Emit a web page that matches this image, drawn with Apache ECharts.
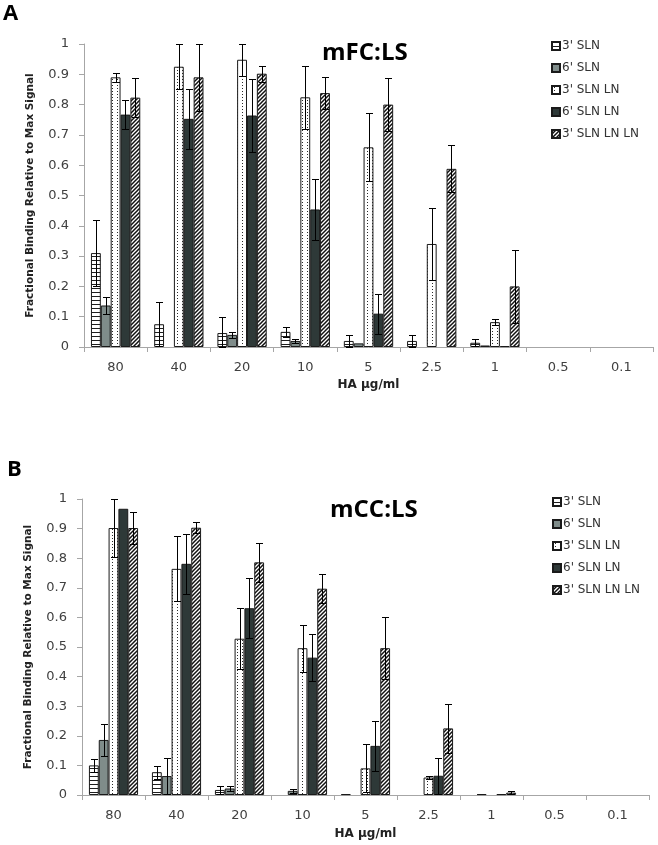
<!DOCTYPE html>
<html><head><meta charset="utf-8">
<script src="https://cdn.jsdelivr.net/npm/echarts@6/dist/echarts.min.js"></script>
<style>html,body{margin:0;padding:0;background:#fff}#c{width:658px;height:845px}</style>
</head><body><div id="c"></div>
<script>
// ---------- data ----------
const categories = ['80', '40', '20', '10', '5', '2.5', '1', '0.5', '0.1'];
const seriesNames = ["3' SLN", "6' SLN", "3' SLN LN", "6' SLN LN", "3' SLN LN LN"];

// Panel A: mFC:LS
const a_3SLN        = [0.31, 0.075, 0.046, 0.05, 0.02, 0.02, 0.014, 0, 0];
const a_3SLN_err    = [0.11, 0.073, 0.053, 0.016, 0.02, 0.02, 0.012, 0, 0];
const a_6SLN        = [0.137, 0, 0.04, 0.02, 0.012, 0, 0.005, 0, 0];
const a_6SLN_err    = [0.028, 0, 0.01, 0.008, 0, 0, 0, 0, 0];
const a_3SLNLN      = [0.89, 0.925, 0.948, 0.824, 0.659, 0.34, 0.082, 0, 0];
const a_3SLNLN_err  = [0.015, 0.075, 0.052, 0.105, 0.112, 0.12, 0.011, 0, 0];
const a_6SLNLN      = [0.767, 0.753, 0.764, 0.454, 0.11, 0, 0.003, 0, 0];
const a_6SLNLN_err  = [0.049, 0.099, 0.121, 0.101, 0.066, 0, 0, 0, 0];
const a_3SLNLNLN    = [0.823, 0.89, 0.902, 0.838, 0.80, 0.588, 0.20, 0, 0];
const a_3SLNLNLN_err= [0.065, 0.11, 0.027, 0.054, 0.088, 0.078, 0.12, 0, 0];

// Panel B: mCC:LS
const b_3SLN        = [0.10, 0.077, 0.017, 0, 0.003, 0, 0, 0, 0];
const b_3SLN_err    = [0.021, 0.022, 0.015, 0, 0, 0, 0, 0, 0];
const b_6SLN        = [0.186, 0.064, 0.022, 0.014, 0, 0, 0.003, 0, 0];
const b_6SLN_err    = [0.053, 0.06, 0.007, 0.006, 0, 0, 0, 0, 0];
const b_3SLNLN      = [0.902, 0.764, 0.528, 0.496, 0.09, 0.059, 0, 0, 0];
const b_3SLNLN_err  = [0.098, 0.11, 0.103, 0.079, 0.081, 0.005, 0, 0, 0];
const b_6SLNLN      = [0.967, 0.781, 0.631, 0.464, 0.166, 0.065, 0.003, 0, 0];
const b_6SLNLN_err  = [0, 0.101, 0.102, 0.079, 0.084, 0.061, 0, 0, 0];
const b_3SLNLNLN    = [0.902, 0.903, 0.786, 0.697, 0.496, 0.225, 0.008, 0, 0];
const b_3SLNLNLN_err= [0.055, 0.019, 0.067, 0.049, 0.105, 0.083, 0.006, 0, 0];

const panelA = [a_3SLN, a_6SLN, a_3SLNLN, a_6SLNLN, a_3SLNLNLN];
const panelAErr = [a_3SLN_err, a_6SLN_err, a_3SLNLN_err, a_6SLNLN_err, a_3SLNLNLN_err];
const panelB = [b_3SLN, b_6SLN, b_3SLNLN, b_6SLNLN, b_3SLNLNLN];
const panelBErr = [b_3SLN_err, b_6SLN_err, b_3SLNLN_err, b_6SLNLN_err, b_3SLNLNLN_err];

// ---------- patterns ----------
function tile(w, h, draw) {
  const c = document.createElement('canvas');
  c.width = w; c.height = h;
  const ctx = c.getContext('2d');
  ctx.fillStyle = '#ffffff'; ctx.fillRect(0, 0, w, h);
  draw(ctx, w, h);
  return { image: c, repeat: 'repeat' };
}
const patHoriz = tile(4, 4, (ctx, w) => { ctx.fillStyle = '#1e1e1e'; ctx.fillRect(0, 0, w, 1); });
const patDots = tile(5, 3, (ctx) => { ctx.fillStyle = '#2a2a2a'; ctx.fillRect(2, 1, 1, 1); });
const patDiag = tile(4, 4, (ctx, w, h) => {
  ctx.strokeStyle = '#111'; ctx.lineWidth = 1.5;
  ctx.beginPath();
  ctx.moveTo(0, h); ctx.lineTo(w, 0);
  ctx.moveTo(-1, 1); ctx.lineTo(1, -1);
  ctx.moveTo(w - 1, h + 1); ctx.lineTo(w + 1, h - 1);
  ctx.stroke();
});
const fills = [patHoriz, '#7f8c8a', patDots, '#2e3938', patDiag];

const CAT_GAP = 0.22;

function errRender(params, api) {
  const ci = api.value(0), v = api.value(1), e = api.value(2), si = api.value(3);
  const catW = api.size([1, 0])[0];
  const groupW = catW * (1 - CAT_GAP);
  const bw = groupW / 5;
  const x = Math.round(api.coord([ci, 0])[0] - groupW / 2 + bw * (si + 0.5)) + 0.5;
  const top = Math.round(api.coord([ci, v + e])[1]) + 0.5;
  const bot = Math.round(api.coord([ci, Math.max(0, v - e)])[1]) + 0.5;
  const hw = 3.5;
  const st = { stroke: '#000', lineWidth: 1 };
  return {
    type: 'group',
    children: [
      { type: 'line', shape: { x1: x, y1: top, x2: x, y2: bot }, style: st },
      { type: 'line', shape: { x1: x - hw, y1: top, x2: x + hw, y2: top }, style: st },
      { type: 'line', shape: { x1: x - hw, y1: bot, x2: x + hw, y2: bot }, style: st }
    ]
  };
}

function buildSeries(vals, errs, gi) {
  const out = [];
  vals.forEach((arr, si) => {
    out.push({
      type: 'bar', name: seriesNames[si], xAxisIndex: gi, yAxisIndex: gi,
      data: arr.map(v => (v === 0 ? '-' : v)),
      barGap: '0%', barCategoryGap: (CAT_GAP * 100) + '%',
      itemStyle: { color: fills[si], borderColor: '#1a1a1a', borderWidth: 1 },
      emphasis: { disabled: true }
    });
  });
  const eData = [];
  errs.forEach((arr, si) => arr.forEach((e, ci) => { if (e > 0) eData.push([ci, vals[si][ci], e, si]); }));
  out.push({
    type: 'custom', xAxisIndex: gi, yAxisIndex: gi, renderItem: errRender,
    data: eData, encode: { x: 0, y: 1 }, z: 5, silent: true
  });
  return out;
}

const axisGray = '#a6a6a6';
const labelFont = 'DejaVu Sans';
function xAxis(gi, gap) {
  return {
    type: 'category', gridIndex: gi, data: categories,
    name: 'HA µg/ml', nameLocation: 'middle', nameGap: gap,
    nameTextStyle: { fontFamily: labelFont, fontWeight: 'bold', fontSize: 12, color: '#222' },
    axisLine: { lineStyle: { color: axisGray, width: 1 } },
    axisTick: { show: true, length: 5, lineStyle: { color: axisGray } },
    axisLabel: { fontFamily: labelFont, fontSize: 13, color: '#404040', margin: 14 },
    splitLine: { show: false }
  };
}
function yAxis(gi) {
  return {
    type: 'value', gridIndex: gi, min: 0, max: 1, interval: 0.1,
    name: 'Fractional Binding Relative to Max Signal', nameLocation: 'middle', nameGap: 48,
    nameTextStyle: { fontFamily: labelFont, fontWeight: 'bold', fontSize: 10.5, color: '#222' },
    axisLine: { show: true, lineStyle: { color: axisGray, width: 1 } },
    axisTick: { show: true, length: 5, lineStyle: { color: axisGray } },
    axisLabel: { fontFamily: labelFont, fontSize: 13, color: '#404040', margin: 15 },
    splitLine: { show: false }
  };
}
function legend(left, top) {
  return {
    orient: 'vertical', left: left, top: top, icon: 'rect',
    itemWidth: 8, itemHeight: 8, itemGap: 10, padding: 0,
    data: seriesNames, selectedMode: false,
    textStyle: { fontFamily: labelFont, fontSize: 12, color: '#333', padding: [0, 0, 0, -3] }
  };
}
const titleStyle = (fs) => ({ fontFamily: 'Open Sans', fontWeight: 'bold', fontSize: fs, color: '#000' });

const chart = echarts.init(document.getElementById('c'), null, { renderer: 'canvas' });
chart.setOption({
  animation: false,
  backgroundColor: '#fff',
  title: [
    { text: 'A', left: 3, top: 3, padding: 0, textStyle: titleStyle(22) },
    { text: 'mFC:LS', left: 322, top: 41, padding: 0, textStyle: titleStyle(24) },
    { text: 'B', left: 7, top: 459, padding: 0, textStyle: titleStyle(22) },
    { text: 'mCC:LS', left: 330, top: 498, padding: 0, textStyle: titleStyle(24) }
  ],
  legend: [legend(551, 40), legend(552, 496)],
  grid: [
    { left: 84, right: 5, top: 44, bottom: 498 },
    { left: 82, right: 9, top: 499, bottom: 50 }
  ],
  xAxis: [xAxis(0, 32), xAxis(1, 33)],
  yAxis: [yAxis(0), yAxis(1)],
  series: buildSeries(panelA, panelAErr, 0).concat(buildSeries(panelB, panelBErr, 1))
});
</script></body></html>
